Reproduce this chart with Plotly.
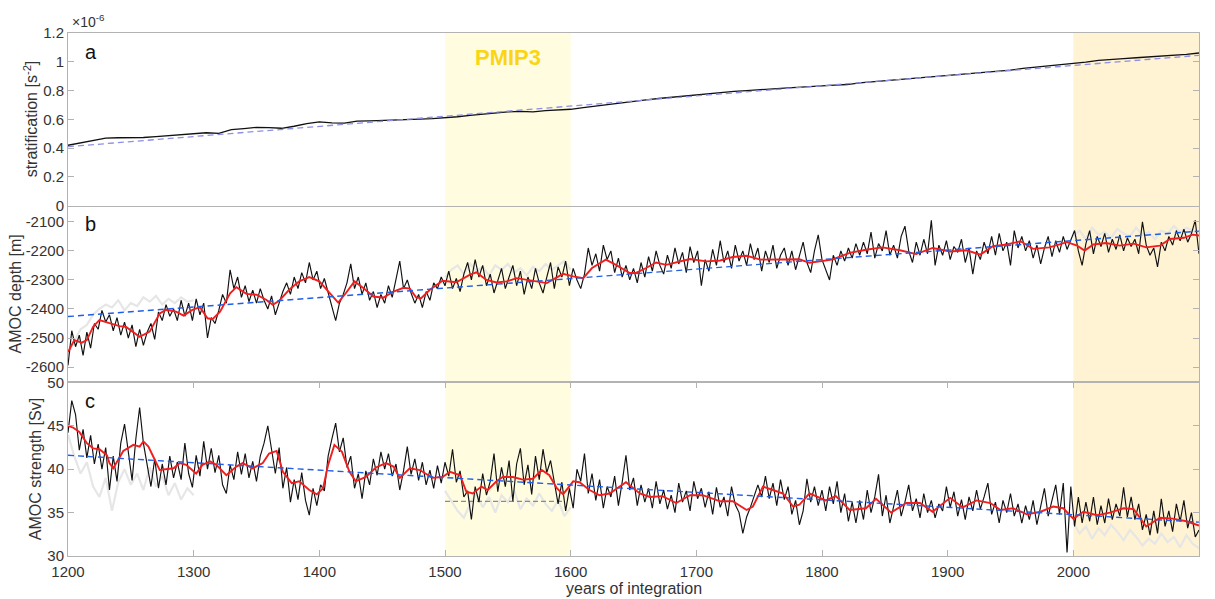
import plotly.graph_objects as go

# ---------------- data ----------------
years_strat = list(range(1200, 2101, 10))
strat = [0.420, 0.437, 0.452, 0.470, 0.472, 0.471, 0.474, 0.480, 0.487, 0.493,
         0.497, 0.507, 0.503, 0.528, 0.535, 0.544, 0.542, 0.538, 0.552, 0.571,
         0.583, 0.575, 0.574, 0.588, 0.590, 0.592, 0.593, 0.597, 0.601, 0.605,
         0.610, 0.618, 0.628, 0.636, 0.645, 0.652, 0.655, 0.652, 0.660, 0.666,
         0.670, 0.682, 0.693, 0.705, 0.718, 0.727, 0.735, 0.745, 0.754, 0.762,
         0.770, 0.776, 0.785, 0.794, 0.800, 0.804, 0.810, 0.817, 0.822, 0.825,
         0.832, 0.838, 0.842, 0.853, 0.860, 0.868, 0.876, 0.885, 0.893, 0.898,
         0.905, 0.912, 0.917, 0.925, 0.932, 0.942, 0.954, 0.962, 0.972, 0.982,
         0.991, 0.998, 1.010, 1.018, 1.022, 1.028, 1.033, 1.040, 1.046, 1.052,
         1.061]
trend_years = [1200, 2100]
trend_strat = [0.41, 1.045]

years_annual = list(range(1200, 2101, 3))
depth_black = [
    -2594, -2475, -2530, -2490, -2560, -2480, -2535, -2450, -2470, -2405,
    -2445, -2420, -2475, -2430, -2490, -2445, -2500, -2455, -2530, -2470,
    -2525, -2480, -2450, -2505, -2410, -2440, -2385, -2425, -2400, -2440,
    -2370, -2425, -2380, -2440, -2365, -2420, -2380, -2500, -2430, -2450,
    -2405, -2350, -2380, -2265, -2330, -2290, -2360, -2320, -2375, -2335,
    -2380, -2330, -2370, -2400, -2355, -2420, -2380, -2340, -2310, -2350,
    -2290, -2330, -2275, -2310, -2240, -2300, -2270, -2330, -2295, -2345,
    -2400, -2440, -2380, -2350, -2310, -2245, -2330, -2290, -2350, -2310,
    -2370, -2340, -2395, -2350, -2380, -2320, -2360, -2300, -2235, -2330,
    -2300, -2345, -2380, -2350, -2395, -2340, -2370, -2310, -2330, -2290,
    -2320, -2270, -2330, -2295, -2340, -2280, -2240, -2300, -2230, -2290,
    -2250, -2320, -2280, -2345, -2300, -2260, -2330, -2290, -2250, -2320,
    -2270, -2350, -2290, -2330, -2260, -2310, -2345, -2290, -2240, -2330,
    -2255, -2290, -2235, -2320, -2260, -2300, -2330, -2280, -2190, -2250,
    -2210, -2270, -2180, -2230, -2200, -2275, -2225, -2290, -2250, -2300,
    -2260, -2310, -2240, -2290, -2220, -2270, -2200, -2250, -2280, -2215,
    -2260, -2190, -2245, -2205, -2275, -2185, -2240, -2200, -2320, -2230,
    -2270, -2195, -2250, -2165, -2240, -2200, -2260, -2180, -2235, -2200,
    -2250, -2175, -2230, -2190, -2270, -2200, -2240, -2180, -2260, -2215,
    -2190, -2250, -2200, -2265, -2215, -2170, -2240, -2275, -2200, -2145,
    -2230, -2265, -2300, -2215, -2250, -2200, -2235, -2190, -2225, -2175,
    -2215, -2170, -2210, -2135, -2225, -2175, -2200, -2130, -2215, -2180,
    -2225, -2150, -2115, -2200, -2240, -2170, -2215, -2160, -2210, -2095,
    -2250, -2180, -2215, -2165, -2230, -2185, -2205, -2160, -2240, -2190,
    -2280, -2200, -2230, -2170, -2210, -2150, -2215, -2140, -2200, -2170,
    -2250, -2130, -2190, -2150, -2200, -2165, -2225, -2180, -2245, -2190,
    -2150, -2220, -2165, -2205, -2150, -2195, -2160, -2130, -2200, -2250,
    -2175, -2130, -2210, -2150, -2185, -2140, -2205, -2160, -2195, -2145,
    -2200, -2155, -2185, -2160, -2210, -2100, -2180, -2215, -2190, -2255,
    -2170, -2200, -2150, -2180, -2130, -2165, -2125, -2170, -2140, -2095,
    -2210]

strength_black = [
    44.2, 47.9, 46.3, 42.2, 44.6, 41.3, 43.9, 40.6, 42.9, 40.0,
    42.5, 37.6, 41.5, 38.6, 43.0, 45.2, 42.0, 38.7, 43.5, 47.1,
    43.0, 40.5, 38.0, 41.2, 37.8, 40.6, 38.2, 41.5, 39.0, 40.8,
    38.8, 43.0, 39.5, 37.9, 41.6, 39.2, 43.2, 40.0, 42.4, 39.6,
    41.6, 38.2, 37.2, 40.5, 38.8, 42.0, 39.4, 41.8, 39.0, 40.9,
    38.6, 41.5, 43.0, 45.0, 42.0, 39.5, 42.5, 37.8, 40.2, 36.2,
    38.8, 36.5, 39.6, 36.4, 34.7, 37.8, 35.8, 38.2, 37.5, 41.5,
    43.5, 45.3, 42.0, 43.6, 40.2, 41.5, 37.8, 39.5, 36.6, 39.8,
    38.2, 41.2, 39.3, 42.0, 40.0, 41.8, 39.2, 40.6, 37.6, 39.8,
    42.6, 39.4, 41.2, 38.7, 40.8, 38.2, 39.9, 37.8, 40.4, 38.4,
    40.8, 39.2, 42.3, 38.5, 39.8, 36.8, 37.5, 34.2, 38.0, 36.2,
    39.5, 37.0, 38.6, 41.8, 37.4, 40.2, 38.0, 41.0, 36.3, 40.6,
    42.4, 38.2, 40.5, 37.1, 41.5, 38.8, 42.3, 39.6, 41.0, 38.5,
    36.0, 38.5, 35.2, 37.8, 35.5, 40.0, 38.6, 41.8, 37.2, 39.5,
    36.4, 38.8, 35.5, 38.0, 36.8, 39.2, 35.8, 38.5, 41.6, 37.6,
    39.0, 35.8, 38.2, 36.2, 37.8, 35.5, 38.6, 36.0, 37.6, 35.4,
    37.0, 35.0, 38.4, 36.2, 37.5, 35.2, 38.6, 36.6, 37.8, 35.6,
    37.4, 34.8, 37.9, 35.6, 36.8, 34.6, 38.0, 35.9, 35.0, 32.6,
    34.5, 35.6, 37.0, 38.2, 36.8, 39.2, 36.6, 38.4, 35.8, 38.8,
    36.5, 38.0, 34.8, 36.4, 33.6, 35.2, 38.9, 36.2, 38.0, 35.8,
    37.6, 35.2, 38.0, 36.0, 38.6, 35.0, 37.2, 34.0, 36.2, 33.8,
    36.4, 34.2, 37.6, 35.0, 36.8, 39.4, 34.6, 37.0, 33.8, 35.6,
    37.6, 34.6, 36.2, 38.2, 35.2, 36.6, 34.4, 37.2, 35.0, 36.4,
    34.4, 36.0, 35.2, 38.0, 35.6, 37.4, 34.6, 36.5, 34.2, 36.8,
    35.2, 37.6, 35.4, 36.8, 38.4, 34.8, 36.2, 33.8, 36.4, 35.0,
    37.2, 34.6, 36.0, 33.8, 35.8, 34.2, 36.4, 33.6, 35.6, 37.8,
    34.6, 36.6, 38.2, 34.8, 38.4, 30.4, 38.0, 33.4, 36.8, 33.8,
    36.2, 34.0, 36.8, 33.6, 35.8, 33.8, 36.6, 34.2, 36.0, 34.6,
    37.9, 34.5, 36.8, 34.2, 36.0, 33.0, 34.8, 32.4, 35.2, 32.6,
    36.6, 33.4, 35.2, 32.8, 36.0, 34.0, 36.4, 33.2, 35.0, 32.2,
    33.0]

years_red_depth = [1200, 1205, 1211, 1215, 1220, 1225, 1233, 1241, 1246, 1253, 1257, 1265, 1273,
                   1278, 1286, 1292, 1299, 1305, 1311, 1315, 1321, 1329, 1334, 1342, 1350, 1358,
                   1363, 1368, 1376, 1384, 1392, 1400, 1408, 1415, 1421, 1428, 1435, 1443, 1451,
                   1459, 1467, 1472, 1477, 1481, 1488, 1498, 1509, 1520, 1525, 1533, 1541, 1549,
                   1557, 1565, 1575, 1581, 1594, 1602, 1610, 1617, 1628, 1636, 1647, 1652, 1660,
                   1668, 1676, 1687, 1695, 1708, 1719, 1729, 1740, 1751, 1761, 1772, 1782, 1790,
                   1808, 1822, 1835, 1848, 1862, 1875, 1888, 1902, 1915, 1926, 1936, 1947, 1958,
                   1968, 1981, 1995, 2003, 2009, 2016, 2026, 2037, 2048, 2058, 2069, 2077, 2088,
                   2095, 2100]
red_depth = [-2548, -2507, -2516, -2507, -2461, -2438, -2449, -2459, -2461, -2484, -2496, -2478, -2415,
             -2403, -2409, -2423, -2403, -2394, -2432, -2435, -2409, -2346, -2325, -2348, -2351, -2369,
             -2386, -2372, -2334, -2305, -2290, -2305, -2346, -2378, -2346, -2305, -2328, -2357, -2361,
             -2340, -2327, -2330, -2360, -2363, -2334, -2303, -2308, -2282, -2274, -2300, -2309, -2305,
             -2294, -2300, -2308, -2311, -2279, -2288, -2294, -2259, -2230, -2248, -2276, -2276, -2259,
             -2240, -2248, -2236, -2228, -2236, -2233, -2221, -2217, -2230, -2230, -2228, -2229, -2241,
             -2230, -2207, -2196, -2188, -2198, -2211, -2190, -2202, -2198, -2213, -2184, -2178, -2167,
             -2193, -2188, -2170, -2182, -2199, -2178, -2173, -2182, -2175, -2188, -2182, -2159, -2155,
             -2144, -2147]
trend_depth = [-2426, -2132]

years_red_strength = [1200, 1204, 1209, 1215, 1220, 1225, 1231, 1233, 1236, 1240, 1244, 1252, 1257,
                      1260, 1264, 1268, 1273, 1284, 1289, 1294, 1302, 1307, 1313, 1318, 1326, 1334,
                      1339, 1347, 1355, 1360, 1366, 1371, 1378, 1384, 1392, 1398, 1403, 1407, 1412,
                      1418, 1424, 1429, 1437, 1445, 1453, 1459, 1464, 1472, 1480, 1490, 1498, 1504,
                      1512, 1517, 1522, 1529, 1534, 1541, 1546, 1554, 1562, 1570, 1577, 1583, 1589,
                      1594, 1602, 1607, 1615, 1623, 1631, 1644, 1655, 1663, 1673, 1684, 1695, 1705,
                      1719, 1729, 1740, 1745, 1753, 1761, 1769, 1777, 1782, 1790, 1803, 1811, 1822,
                      1835, 1843, 1855, 1867, 1878, 1888, 1902, 1912, 1923, 1934, 1942, 1952, 1963,
                      1974, 1984, 1992, 2000, 2008, 2019, 2029, 2040, 2048, 2058, 2069, 2079, 2090,
                      2100]
red_strength = [45.0, 44.8, 44.3, 43.0, 42.4, 42.3, 41.6, 40.7, 40.1, 41.1, 42.1, 42.8, 42.6,
                43.2, 42.6, 41.4, 39.9, 40.1, 40.7, 40.5, 39.5, 40.5, 40.9, 40.5, 39.3, 40.3,
                40.7, 40.1, 40.7, 41.8, 42.1, 39.7, 38.4, 38.6, 37.6, 37.1, 37.8, 40.5, 42.8,
                42.0, 39.7, 38.6, 39.1, 40.2, 40.7, 40.3, 39.0, 40.1, 39.9, 39.0, 39.1, 39.7,
                39.3, 37.4, 37.2, 38.0, 37.6, 38.6, 39.1, 39.1, 38.8, 38.9, 39.9, 39.3, 37.8,
                37.1, 38.6, 38.5, 37.6, 37.0, 37.2, 38.5, 37.2, 36.8, 36.9, 36.1, 37.0, 37.0,
                36.3, 36.3, 35.3, 35.7, 38.0, 37.6, 37.2, 35.7, 35.9, 37.2, 36.4, 36.9, 35.3,
                35.5, 36.6, 35.0, 36.1, 36.1, 35.1, 36.7, 35.6, 36.4, 36.1, 35.3, 35.5, 34.8,
                35.1, 35.7, 35.5, 34.3, 35.1, 34.7, 35.0, 35.5, 35.4, 33.4, 34.4, 34.3, 34.0,
                33.5]
trend_strength = [41.6, 33.9]

years_grey_early = list(range(1200, 1301, 5))
years_grey_mid = list(range(1500, 1601, 5))
years_grey_late = list(range(2000, 2101, 5))
grey_depth_early = [-2560, -2510, -2470, -2455, -2420, -2400, -2385, -2395, -2370, -2405, -2380,
                    -2390, -2360, -2375, -2355, -2385, -2365, -2380, -2360, -2375, -2370]
grey_depth_mid = [-2290, -2265, -2250, -2280, -2245, -2270, -2255, -2285, -2250, -2265, -2245,
                  -2275, -2260, -2285, -2255, -2270, -2245, -2265, -2250, -2235, -2265]
grey_depth_late = [-2150, -2130, -2160, -2120, -2145, -2135, -2155, -2125, -2140, -2150, -2120,
                   -2145, -2135, -2160, -2130, -2140, -2115, -2135, -2120, -2130, -2140]
grey_strength_early = [44.0, 41.5, 39.5, 40.8, 38.0, 36.8, 39.0, 35.2, 38.5, 40.0, 38.2,
                       39.5, 37.6, 40.2, 38.0, 39.2, 37.0, 38.4, 36.5, 37.8, 37.0]
grey_strength_mid = [37.5, 36.4, 35.2, 34.4, 36.0, 37.2, 35.6, 36.8, 35.0, 37.0, 36.2,
                     37.6, 35.4, 36.6, 35.8, 37.2, 36.0, 35.2, 36.4, 34.6, 35.6]
grey_strength_late = [33.8, 32.6, 33.4, 32.0, 33.2, 32.4, 33.6, 32.8, 31.8, 33.0, 32.2,
                      31.2, 32.0, 31.4, 32.6, 31.6, 32.2, 31.0, 32.4, 31.4, 30.9]
pmip_mean_years = [1500, 1595]
pmip_mean_strength = [36.3, 36.3]

x_ticks = list(range(1200, 2101, 100))
strat_ticks = [0, 0.2, 0.4, 0.6, 0.8, 1.0, 1.2]
strat_labels = ["0", "0.2", "0.4", "0.6", "0.8", "1", "1.2"]
depth_ticks = [-2600, -2500, -2400, -2300, -2200, -2100]
depth_labels = ["-2600", "-2500", "-2400", "-2300", "-2200", "-2100"]
strength_ticks = [30, 35, 40, 45, 50]

# ---------------- style ----------------
FONT = "Liberation Sans, Arial, Helvetica, sans-serif"
AXC = "#b3b3b3"
TXT = "#333333"
BLACK = "#111111"
RED = "#f01e1e"
BLUE = "#1f5fe6"
BLUE_A = "#8c90e6"
GREY = "#e6e6e6"

fig = go.Figure()

def add(x, y, xa, ya, color, width, dash=None):
    fig.add_trace(go.Scatter(x=x, y=y, mode="lines", xaxis=xa, yaxis=ya,
                             line=dict(color=color, width=width, dash=dash),
                             showlegend=False, hoverinfo="skip"))

# panel a
add(years_strat, strat, "x", "y", BLACK, 1.3)
add(trend_years, trend_strat, "x", "y", BLUE_A, 1.3, "6px,4px")

# panel b
add(years_grey_early, grey_depth_early, "x2", "y2", GREY, 2.2)
add(years_grey_mid, grey_depth_mid, "x2", "y2", GREY, 2.2)
add(years_grey_late, grey_depth_late, "x2", "y2", GREY, 2.2)
add(years_annual, depth_black, "x2", "y2", BLACK, 1.15)
add(years_red_depth, red_depth, "x2", "y2", RED, 1.9)
add(trend_years, trend_depth, "x2", "y2", BLUE, 1.4, "6px,4px")

# panel c
add(years_grey_early, grey_strength_early, "x3", "y3", GREY, 2.2)
add(years_grey_mid, grey_strength_mid, "x3", "y3", GREY, 2.2)
add(years_grey_late, grey_strength_late, "x3", "y3", GREY, 2.2)
add(pmip_mean_years, pmip_mean_strength, "x3", "y3", "#8a8a8a", 1.2, "5px,3px")
add(years_annual, strength_black, "x3", "y3", BLACK, 1.15)
add(years_red_strength, red_strength, "x3", "y3", RED, 1.9)
add(trend_years, trend_strength, "x3", "y3", BLUE, 1.4, "6px,4px")

xcommon = dict(range=[1200, 2100], showline=True, linecolor=AXC, linewidth=1,
               showgrid=False, zeroline=False, tickvals=x_ticks)
ycommon = dict(showline=True, linecolor=AXC, linewidth=1, mirror="allticks",
               ticks="inside", ticklen=6, tickcolor=AXC, showgrid=False,
               zeroline=False, tickfont=dict(size=15, color=TXT, family=FONT))

fig.update_layout(
    width=1215, height=599,
    margin=dict(l=68, r=16, t=33, b=43),
    paper_bgcolor="white", plot_bgcolor="rgba(0,0,0,0)",
    font=dict(family=FONT, color=TXT, size=15),
    xaxis=dict(xcommon, domain=[0, 1], anchor="y", ticks="", showticklabels=False, mirror=True),
    xaxis2=dict(xcommon, domain=[0, 1], anchor="y2", ticks="", showticklabels=False,
                mirror=True, matches="x"),
    xaxis3=dict(xcommon, domain=[0, 1], anchor="y3", ticks="inside", ticklen=6,
                tickcolor=AXC, mirror="allticks", matches="x", ticklabelstandoff=2,
                tickfont=dict(size=15, color=TXT, family=FONT)),
    yaxis=dict(ycommon, domain=[0.6698, 1.0], anchor="x", range=[0, 1.2],
               tickvals=strat_ticks, ticktext=strat_labels),
    yaxis2=dict(ycommon, domain=[0.3335, 0.6667], anchor="x2", range=[-2650, -2050],
                tickvals=depth_ticks, ticktext=depth_labels),
    yaxis3=dict(ycommon, domain=[0.0, 0.332], anchor="x3", range=[30, 50],
                tickvals=strength_ticks),
)

# shaded periods
for x0, x1, col in [(1500, 1600, "#fffce0"), (2000, 2100, "#fff3d3")]:
    fig.add_shape(type="rect", xref="x", yref="paper", x0=x0, x1=x1, y0=0, y1=1,
                  fillcolor=col, line=dict(width=0), layer="below")

def px2paper_x(px):
    return (px - 68) / 1131.0

annots = [
    dict(text="×10<sup>-6</sup>", x=px2paper_x(70), y=1.0, xref="paper", yref="paper",
         xanchor="left", yanchor="bottom", yshift=1, font=dict(size=14, color=TXT)),
    dict(text="a", x=px2paper_x(83), y=1.0, xref="paper", yref="y domain",
         xanchor="left", yanchor="top", yshift=-6, font=dict(size=20, color="#111")),
    dict(text="<b>PMIP3</b>", x=1550, y=1.0, xref="x", yref="y domain",
         xanchor="center", yanchor="top", yshift=-10, font=dict(size=22, color="#fad514")),
    dict(text="b", x=px2paper_x(83), y=1.0, xref="paper", yref="y2 domain",
         xanchor="left", yanchor="top", yshift=-4, font=dict(size=20, color="#111")),
    dict(text="c", x=px2paper_x(83), y=1.0, xref="paper", yref="y3 domain",
         xanchor="left", yanchor="top", yshift=-6, font=dict(size=20, color="#111")),
    dict(text="stratification [s<sup>-2</sup>]", x=px2paper_x(31), y=0.5, xref="paper",
         yref="y domain", textangle=-90, xanchor="center", yanchor="middle",
         font=dict(size=16, color=TXT)),
    dict(text="AMOC depth [m]", x=px2paper_x(15), y=0.5, xref="paper", yref="y2 domain",
         textangle=-90, xanchor="center", yanchor="middle", font=dict(size=16, color=TXT)),
    dict(text="AMOC strength [Sv]", x=px2paper_x(35), y=0.5, xref="paper", yref="y3 domain",
         textangle=-90, xanchor="center", yanchor="middle", font=dict(size=16, color=TXT)),
    dict(text="years of integration", x=0.5, y=(556 - 589) / 523.0, xref="paper", yref="paper",
         xanchor="center", yanchor="middle", font=dict(size=16, color=TXT)),
]
for a in annots:
    a["showarrow"] = False
    fig.add_annotation(**a)

assert len(depth_black) == len(years_annual)
assert len(strength_black) == len(years_annual)
assert len(red_depth) == len(years_red_depth)
assert len(red_strength) == len(years_red_strength)

fig.write_html(
    "out.html",
    config={"displayModeBar": False},
    post_script="document.body.style.margin='0';document.body.style.overflow='hidden';",
)
